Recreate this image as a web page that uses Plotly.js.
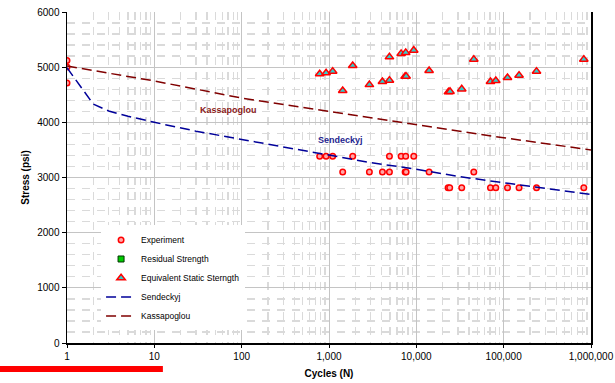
<!DOCTYPE html>
<html>
<head>
<meta charset="utf-8">
<script src="https://cdn.plot.ly/plotly-3.0.1.min.js"></script>
<style>
html,body{margin:0;padding:0;background:#fff;}
#chart{width:615px;height:383px;}
</style>
</head>
<body>
<div id="chart"></div>
<script>
// Experiment data (cycles, stress psi)
const expN = [1, 1, 1,
  782, 926, 1102, 1868, 4920, 6700, 7560, 9340,
  1435, 2900, 4090, 4920, 7440, 7640, 14000, 45500,
  23100, 24100, 33100, 70600, 81300, 110600, 150000, 237700, 827000];
const expS = [5120, 5005, 4715,
  3385, 3385, 3385, 3385, 3385, 3385, 3385, 3385,
  3100, 3100, 3100, 3100, 3100, 3100, 3100, 3100,
  2815, 2815, 2815, 2815, 2815, 2815, 2815, 2815, 2815];

// Residual strength (no visible points)
const resN = [null];
const resS = [null];

// Equivalent static strength
const eqN = [782, 926, 1102, 1435, 1868, 2900, 4090, 4920, 4920, 6700, 7560, 7440, 7640, 9340, 14000,
  23300, 24300, 33100, 45500, 70600, 81300, 110600, 150000, 237700, 827000];
const eqS = [4877, 4895, 4924, 4574, 5027, 4682, 4737, 5185, 4760, 5245, 5263, 4833, 4833, 5305, 4936,
  4550, 4558, 4604, 5141, 4737, 4755, 4809, 4851, 4924, 5141];

// Sendeckyj model curve
const sendN = [1, 2, 3, 5, 10, 30, 100, 300, 1000, 3000, 10000, 30000, 100000, 300000, 1000000];
const sendS = [4990, 4330, 4205, 4110, 4000, 3840, 3690, 3550, 3410, 3270, 3150, 3020, 2905, 2800, 2692];

// Kassapoglou model curve
const kasN = [1, 10, 100, 1000, 10000, 100000, 1000000];
const kasS = [5020, 4750, 4440, 4200, 3960, 3720, 3500];

// Tick labels
const xTickVals = [1, 10, 100, 1000, 10000, 100000, 1000000];
const xTickText = ['1', '10', '100', '1,000', '10,000', '100,000', '1,000,000'];

const minorX = [];
for (let d = 0; d < 6; d++) {
  for (let k = 2; k <= 9; k++) minorX.push(k * Math.pow(10, d));
}

const FONT = 'Liberation Sans, Arial, sans-serif';

const traces = [
  {
    x: expN, y: expS, name: 'Experiment', type: 'scatter', mode: 'markers',
    marker: {symbol: 'circle', size: 5.5, color: '#ffa8a8', line: {color: '#ff0000', width: 1.5}}
  },
  {
    x: resN, y: resS, name: 'Residual Strength', type: 'scatter', mode: 'markers',
    marker: {symbol: 'square', size: 6, color: '#00cc00', line: {color: '#003300', width: 1}}
  },
  {
    x: eqN, y: eqS, name: 'Equivalent Static Sterngth', type: 'scatter', mode: 'markers',
    marker: {symbol: 'triangle-up', size: 7.5, color: '#33cccc', line: {color: '#ff0000', width: 1.5}}
  },
  {
    x: sendN, y: sendS, name: 'Sendeckyj', type: 'scatter', mode: 'lines',
    line: {color: '#000099', width: 1.5, dash: '10px,5px'}
  },
  {
    x: kasN, y: kasS, name: 'Kassapoglou', type: 'scatter', mode: 'lines',
    line: {color: '#800000', width: 1.5, dash: '10px,5px'}
  }
];

const layout = {
  width: 615, height: 383,
  margin: {l: 67, r: 24, t: 12, b: 40},
  paper_bgcolor: '#ffffff', plot_bgcolor: '#ffffff',
  font: {family: FONT, size: 10, color: '#000'},
  showlegend: true,
  legend: {
    x: 0.065, y: 0.355, xanchor: 'left', yanchor: 'top',
    bgcolor: '#ffffff', borderwidth: 0,
    font: {family: FONT, size: 8.5, color: '#000'},
    itemwidth: 30, tracegroupgap: 0
  },
  xaxis: {
    type: 'log', range: [0, 6],
    tickmode: 'array', tickvals: xTickVals, ticktext: xTickText,
    ticks: 'outside', ticklen: 3, tickcolor: '#000',
    showline: true, linecolor: '#000', linewidth: 2, mirror: false,
    showgrid: true, gridcolor: '#c4c4c4', gridwidth: 1,
    zeroline: false,
    tickfont: {family: FONT, size: 10},
    title: {text: '<b>Cycles (N)</b>', font: {family: FONT, size: 10}, standoff: 9},
    minor: {tickmode: 'array', tickvals: minorX, showgrid: true, gridcolor: '#dadada', gridwidth: 1.3, griddash: '8px,7px', ticks: ''}
  },
  yaxis: {
    range: [0, 6000], dtick: 1000, tick0: 0,
    ticks: 'outside', ticklen: 4, tickcolor: '#000',
    showline: true, linecolor: '#000', linewidth: 1.5, mirror: true,
    showgrid: true, gridcolor: '#c4c4c4', gridwidth: 1,
    zeroline: false,
    tickfont: {family: FONT, size: 10},
    title: {text: '<b>Stress (psi)</b>', font: {family: FONT, size: 10}, standoff: 6},
    minor: {dtick: 200, showgrid: true, gridcolor: '#dadada', gridwidth: 1.3, griddash: '8px,7px', ticks: ''}
  },
  annotations: [
    {x: Math.log10(71), y: 4229, xref: 'x', yref: 'y', text: '<b>Kassapoglou</b>', showarrow: false,
     font: {family: FONT, size: 9, color: '#8b1a1a'}},
    {x: Math.log10(1350), y: 3684, xref: 'x', yref: 'y', text: '<b>Sendeckyj</b>', showarrow: false,
     font: {family: FONT, size: 9, color: '#1f1f8f'}}
  ],
  shapes: [
    {type: 'rect', xref: 'paper', yref: 'paper', x0: -0.128, x1: 0.183, y0: -0.0695, y1: -0.0876,
     fillcolor: '#ff0000', line: {width: 0}, layer: 'above'}
  ]
};

Plotly.newPlot('chart', traces, layout, {displayModeBar: false, staticPlot: true});
</script>
</body>
</html>
